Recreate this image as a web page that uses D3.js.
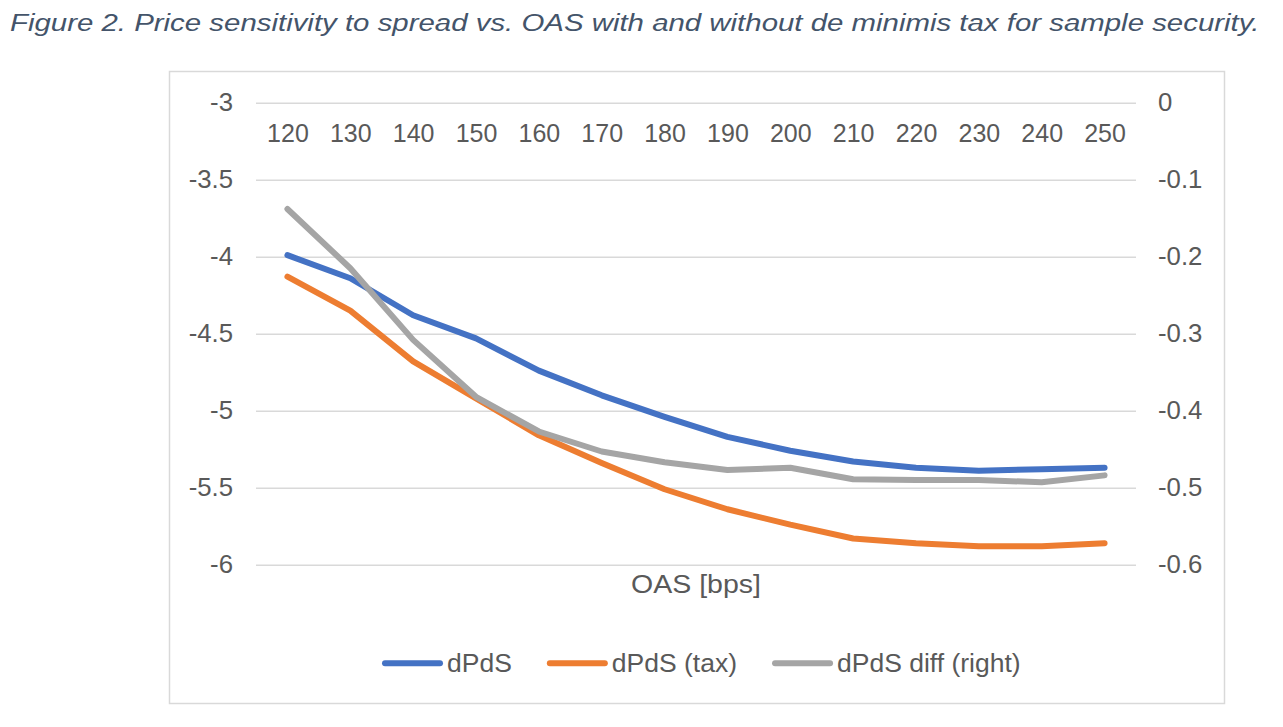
<!DOCTYPE html>
<html>
<head>
<meta charset="utf-8">
<script src="https://cdn.jsdelivr.net/npm/d3@7"></script>
<style>
	body { margin: 0; background: #fff; }
	svg text { font-family: Arial, "Liberation Sans", sans-serif; fill: #595959; }
	.title { font-style: italic; fill: #44546A; }
	.grid line { stroke: #D9D9D9; stroke-width: 1.5; }
	.series { fill: none; stroke-width: 6; stroke-linejoin: round; stroke-linecap: round; }
</style>
</head>
<body>
<svg id="chart"></svg>
<script>
const oas = [120, 130, 140, 150, 160, 170, 180, 190, 200, 210, 220, 230, 240, 250];
const dPdS = [-3.99, -4.14, -4.38, -4.53, -4.74, -4.90, -5.04, -5.17, -5.26, -5.33, -5.37, -5.39, -5.38, -5.37];
const dPdSTax = [-4.13, -4.35, -4.68, -4.92, -5.16, -5.34, -5.51, -5.64, -5.74, -5.83, -5.86, -5.88, -5.88, -5.86];
const dPdSDiff = [-0.138, -0.215, -0.308, -0.382, -0.427, -0.453, -0.467, -0.477, -0.474, -0.489, -0.490, -0.490, -0.493, -0.484];
const leftTicks = [-3, -3.5, -4, -4.5, -5, -5.5, -6];
const rightTicks = [0, -0.1, -0.2, -0.3, -0.4, -0.5, -0.6];
const seriesNames = ['dPdS', 'dPdS (tax)', 'dPdS diff (right)'];
const colors = ['#4472C4', '#ED7D31', '#A5A5A5'];

const W = 1283, H = 727;
const plot = { left: 256, right: 1136, top: 102.7, bottom: 564.7 };

// the source picture is a bit wider than tall, so text is stretched sideways
const widen = (sel, k) => sel.each(function(){
	const n = this.getComputedTextLength();
	d3.select(this).attr('textLength', n * k).attr('lengthAdjust', 'spacingAndGlyphs');
});

const svg = d3.select('#chart').attr('width', W).attr('height', H);

svg.append('text')
	.attr('class', 'title')
	.attr('x', 10)
	.attr('y', 30.5)
	.style('font-size', '24.5px')
	.text('Figure 2. Price sensitivity to spread vs. OAS with and without de minimis tax for sample security.')
	.call(widen, 1.2);

// chart frame
svg.append('rect')
	.attr('x', 169.5).attr('y', 71.5)
	.attr('width', 1055).attr('height', 632)
	.attr('fill', 'none')
	.attr('stroke', '#D9D9D9')
	.attr('stroke-width', 1.5);

const x = d3.scalePoint().domain(oas).range([plot.left, plot.right]).padding(0.5);
const yL = d3.scaleLinear().domain([-6, -3]).range([plot.bottom, plot.top]);
const yR = d3.scaleLinear().domain([-0.6, 0]).range([plot.bottom, plot.top]);

// gridlines
svg.append('g')
	.attr('class', 'grid')
	.attr('transform', `translate(${plot.left},0)`)
	.call(d3.axisLeft(yL).tickValues(leftTicks).tickSize(-(plot.right - plot.left)).tickFormat(''))
	.call(g => g.select('.domain').remove());

const styleAxis = g => {
	g.select('.domain').remove();
	g.selectAll('text').style('font-size', '25px').attr('fill', '#595959').style('font-family', 'Arial, "Liberation Sans", sans-serif');
};
const plain = d => String(d);

svg.append('g')
	.attr('transform', `translate(${plot.left},0)`)
	.call(d3.axisLeft(yL).tickValues(leftTicks).tickSize(0).tickPadding(23).tickFormat(plain))
	.call(styleAxis)
	.call(g => g.selectAll('text').call(widen, 1.03));

svg.append('g')
	.attr('transform', `translate(${plot.right},0)`)
	.call(d3.axisRight(yR).tickValues(rightTicks).tickSize(0).tickPadding(22).tickFormat(plain))
	.call(styleAxis)
	.call(g => g.selectAll('text').call(widen, 1.03));

svg.append('g')
	.attr('transform', `translate(0,${plot.top})`)
	.call(d3.axisBottom(x).tickSize(0).tickPadding(22))
	.call(styleAxis);

svg.append('text')
	.attr('x', (plot.left + plot.right) / 2)
	.attr('y', 592.5)
	.attr('text-anchor', 'middle')
	.style('font-size', '25px')
	.text('OAS [bps]')
	.call(widen, 1.14);

const lineL = d3.line().x((d, i) => x(oas[i])).y(d => yL(d));
const lineR = d3.line().x((d, i) => x(oas[i])).y(d => yR(d));

svg.append('path').attr('class', 'series').attr('stroke', colors[0]).attr('d', lineL(dPdS));
svg.append('path').attr('class', 'series').attr('stroke', colors[1]).attr('d', lineL(dPdSTax));
svg.append('path').attr('class', 'series').attr('stroke', colors[2]).attr('d', lineR(dPdSDiff));

// legend
const legend = svg.append('g');
let lx = 385;
seriesNames.forEach((name, i) => {
	legend.append('line')
		.attr('x1', lx).attr('x2', lx + 55)
		.attr('y1', 663.3).attr('y2', 663.3)
		.attr('stroke', colors[i])
		.attr('stroke-width', 6)
		.attr('stroke-linecap', 'round');
	const t = legend.append('text')
		.attr('x', lx + 62)
		.attr('y', 672)
		.style('font-size', '25px')
		.text(name)
		.call(widen, 1.06);
	lx += 62 + t.node().getComputedTextLength() + 38;
});
</script>
</body>
</html>
